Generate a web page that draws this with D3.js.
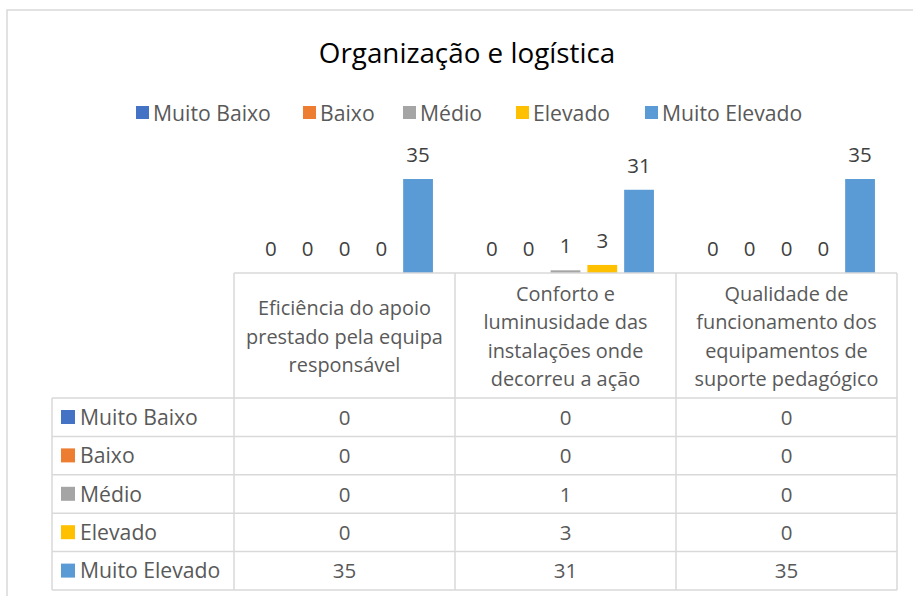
<!DOCTYPE html>
<html>
<head>
<meta charset="utf-8">
<script src="https://cdn.jsdelivr.net/npm/d3@7"></script>
<style>
  body { margin: 0; background: #fff; }
  svg { display: block; font-family: 'Open Sans', Lato, sans-serif; }
</style>
</head>
<body>
<svg id="chart"></svg>
<script>
const categories = [
    ['Eficiência do apoio', 'prestado pela equipa', 'responsável'],
    ['Conforto e', 'luminusidade das', 'instalações onde', 'decorreu a ação'],
    ['Qualidade de', 'funcionamento dos', 'equipamentos de', 'suporte pedagógico']
];
const seriesNames = ['Muito Baixo', 'Baixo', 'Médio', 'Elevado', 'Muito Elevado'];
const seriesColors = ['#4472C4', '#ED7D31', '#A5A5A5', '#FFC000', '#5B9BD5'];
const muitoBaixo = [0, 0, 0];
const baixo = [0, 0, 0];
const medio = [0, 1, 0];
const elevado = [0, 3, 0];
const muitoElevado = [35, 31, 35];
const values = [muitoBaixo, baixo, medio, elevado, muitoElevado];

const width = 913;
const height = 596;

const svg = d3.select('#chart')
    .attr('width', width)
    .attr('height', height);

// chart border
svg.append('rect')
    .attr('x', 7).attr('y', 10)
    .attr('width', 940).attr('height', 620)
    .attr('fill', '#fff')
    .attr('stroke', '#d9d9d9')
    .attr('stroke-width', 1.5);

svg.append('text')
    .attr('x', 467).attr('y', 63)
    .attr('text-anchor', 'middle')
    .attr('font-size', 27.8)
    .attr('fill', '#000')
    .text('Organização e logística');

// legend
const legendX = [136, 303, 403, 516, 645];
const legend = svg.append('g');
seriesNames.forEach((name, i) => {
    legend.append('rect')
        .attr('x', legendX[i]).attr('y', 106)
        .attr('width', 13).attr('height', 13)
        .attr('fill', seriesColors[i]);
    legend.append('text')
        .attr('x', legendX[i] + 17).attr('y', 120.5)
        .attr('font-size', 21.2)
        .attr('fill', '#595959')
        .text(name);
});

// plot
const baseY = 273;
const x0 = d3.scaleBand()
    .domain(d3.range(categories.length))
    .range([234, 897]);
const x1 = d3.scaleBand()
    .domain(d3.range(seriesNames.length))
    .range([0, x0.bandwidth()])
    .paddingInner(0.19)
    .paddingOuter(0.6);
const y = d3.scaleLinear()
    .domain([0, 40])
    .range([baseY, baseY - 107.4]);

const bars = [];
values.forEach((vals, s) => {
    vals.forEach((v, c) => bars.push({ s, c, v }));
});

svg.append('g').selectAll('rect')
    .data(bars)
    .enter().append('rect')
    .attr('x', d => x0(d.c) + x1(d.s))
    .attr('y', d => y(d.v))
    .attr('width', x1.bandwidth())
    .attr('height', d => baseY - y(d.v))
    .attr('fill', d => seriesColors[d.s]);

svg.append('g').selectAll('text')
    .data(bars)
    .enter().append('text')
    .attr('x', d => x0(d.c) + x1(d.s) + x1.bandwidth() / 2)
    .attr('y', d => y(d.v) - 17)
    .attr('text-anchor', 'middle')
    .attr('font-size', 20.5)
    .attr('fill', '#404040')
    .text(d => d.v);

// data table
const tableLeft = 52;
const headerBottom = 398;
const rowH = 38.4;
const table = svg.append('g');
const lineColor = '#d9d9d9';

function hline(x1p, x2p, yp) {
    table.append('line')
        .attr('x1', x1p).attr('x2', x2p)
        .attr('y1', yp).attr('y2', yp)
        .attr('stroke', lineColor).attr('stroke-width', 1.5);
}
function vline(xp, y1p, y2p) {
    table.append('line')
        .attr('x1', xp).attr('x2', xp)
        .attr('y1', y1p).attr('y2', y2p)
        .attr('stroke', lineColor).attr('stroke-width', 1.5);
}

const tableBottom = headerBottom + rowH * seriesNames.length;
hline(x0(0), 897, baseY);
for (let r = 0; r <= seriesNames.length; r++) {
    hline(tableLeft, 897, headerBottom + r * rowH);
}
vline(tableLeft, headerBottom, tableBottom);
categories.forEach((c, i) => vline(x0(i), baseY, tableBottom));
vline(897, baseY, tableBottom);

// header labels
categories.forEach((lines, i) => {
    const cx = x0(i) + x0.bandwidth() / 2;
    const lh = 28.5;
    const mid = (baseY + headerBottom) / 2;
    const t = table.append('text')
        .attr('text-anchor', 'middle')
        .attr('font-size', 19.9)
        .attr('fill', '#595959');
    lines.forEach((ln, k) => {
        t.append('tspan')
            .attr('x', cx)
            .attr('y', mid + (k - (lines.length - 1) / 2) * lh + 8)
            .text(ln);
    });
});

// rows
seriesNames.forEach((name, s) => {
    const top = headerBottom + s * rowH;
    table.append('rect')
        .attr('x', 61).attr('y', top + 12)
        .attr('width', 14).attr('height', 14)
        .attr('fill', seriesColors[s]);
    table.append('text')
        .attr('x', 80).attr('y', top + rowH / 2 + 7.5)
        .attr('font-size', 21.2)
        .attr('fill', '#595959')
        .text(name);
    values[s].forEach((v, c) => {
        table.append('text')
            .attr('x', x0(c) + x0.bandwidth() / 2)
            .attr('y', top + rowH / 2 + 7.5)
            .attr('text-anchor', 'middle')
            .attr('font-size', 20.5)
            .attr('fill', '#595959')
            .text(v);
    });
});
</script>
</body>
</html>
